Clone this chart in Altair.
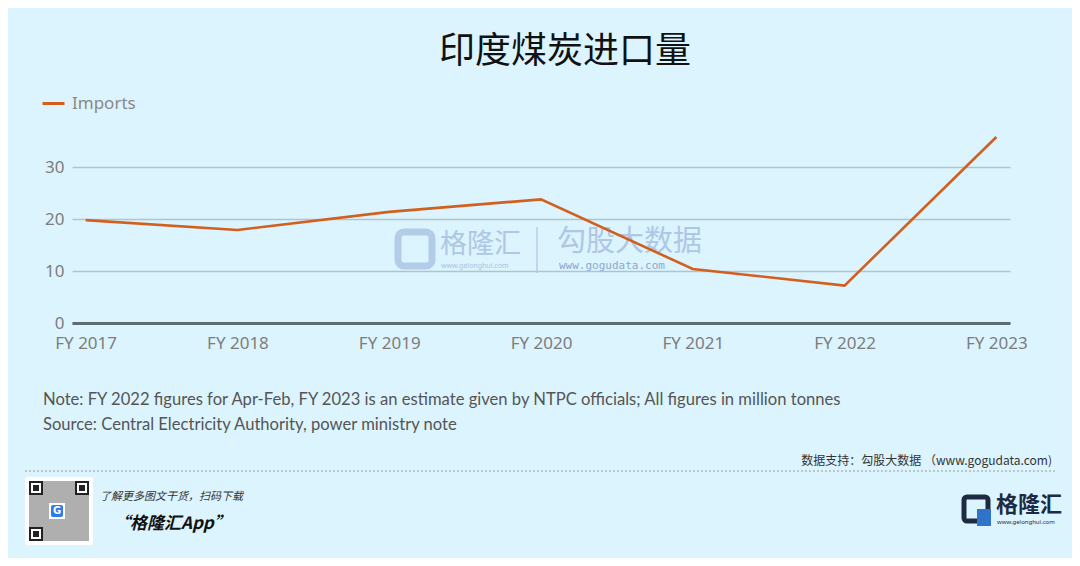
import altair as alt
import pandas as pd

years = ["FY 2017", "FY 2018", "FY 2019", "FY 2020", "FY 2021", "FY 2022", "FY 2023"]
imports = [19.8, 17.9, 21.4, 23.8, 10.4, 7.2, 35.8]
series = ["Imports"] * len(years)
y_ticks = [0, 10, 20, 30]

title_text = "印度煤炭进口量"
note_text = "Note: FY 2022 figures for Apr-Feb, FY 2023 is an estimate given by NTPC officials; All figures in million tonnes"
source_text = "Source: Central Electricity Authority, power ministry note"
support_text = "数据支持：勾股大数据 （www.gogudata.com)"
qr_line1 = "了解更多图文干货，扫码下载"
qr_line2 = "“格隆汇App”"
logo_text = "格隆汇"
logo_url = "www.gelonghui.com"
wm_brand2 = "勾股大数据"
wm_url2 = "www.gogudata.com"

BG = "#dcf4fd"
ORANGE = "#d35f1f"
W, H = 938, 187
OX, OY = 72, 136  # page position of plot origin

df = pd.DataFrame({"year": years, "imports": imports, "series": series})
one = pd.DataFrame({"k": [0]})


def px(v):
    return alt.value(v - OX)


def py(v):
    return alt.value(v - OY)


def text(t, x, y, size, color="#333", align="left", font="Noto Sans CJK SC",
         weight="normal", style="normal", baseline="middle", opacity=1.0):
    return alt.Chart(one).mark_text(
        text=t, align=align, baseline=baseline, fontSize=size, font=font,
        fontWeight=weight, fontStyle=style, color=color, opacity=opacity
    ).encode(x=px(x), y=py(y))


def rect(x1, y1, x2, y2, fill, opacity=1.0, stroke=None, sw=0, radius=0):
    kw = dict(fill=fill, opacity=opacity, cornerRadius=radius)
    if stroke:
        kw.update(stroke=stroke, strokeWidth=sw)
    return alt.Chart(one).mark_rect(**kw).encode(
        x=px(x1), x2=px(x2), y=py(y1), y2=py(y2))


xenc = alt.X("year:N", sort=years, title=None,
             scale=alt.Scale(type="point", padding=0.09),
             axis=alt.Axis(labelAngle=0, labelFontSize=17, labelColor="#7d7d7d",
                           labelFont="Noto Sans", labelPadding=12, ticks=False,
                           domainColor="#5e6b70", domainWidth=3, grid=False))
yenc = alt.Y("imports:Q", title=None,
             scale=alt.Scale(domain=[0, 36], nice=False),
             axis=alt.Axis(values=y_ticks, labelFontSize=17, labelColor="#7d7d7d",
                           labelFont="Noto Sans", labelPadding=8, ticks=False,
                           domain=False, gridColor="#b3c3c9", gridWidth=1.5))

line = alt.Chart(df).mark_line(strokeWidth=2.6).encode(
    x=xenc, y=yenc,
    color=alt.Color("series:N", title=None,
                    scale=alt.Scale(domain=["Imports"], range=[ORANGE]),
                    legend=alt.Legend(orient="none", legendX=-31, legendY=-45,
                                      symbolType="stroke", symbolSize=484,
                                      symbolStrokeWidth=3, labelFontSize=17,
                                      labelColor="#888888", labelFont="Noto Sans",
                                      padding=0, labelOffset=6))
)

WM = "#a8c3e2"
watermark = [
    rect(398, 232, 432, 266, "none", opacity=0.8, stroke=WM, sw=7, radius=6),
    text("格隆汇", 440, 245, 27, color=WM, opacity=0.9),
    text(logo_url, 441, 266, 7, color=WM, font="Noto Sans"),
    alt.Chart(one).mark_rule(color=WM, strokeWidth=1.2).encode(
        x=px(537), y=py(227), y2=py(273)),
    text(wm_brand2, 557, 242, 29, color=WM, opacity=0.9),
    text(wm_url2, 559, 266, 11, color="#8aa9d0", font="DejaVu Sans Mono"),
]

annotations = [
    text(title_text, 565, 52, 36, color="#111111", align="center"),
    text(note_text, 43, 400, 16.6, color="#555555", font="Lato"),
    text(source_text, 43, 425, 16.6, color="#555555", font="Lato"),
    text(support_text, 1052, 461, 12, color="#333333", align="right"),
    alt.Chart(one).mark_rule(color="#9a9a9a", strokeWidth=1.2, strokeDash=[2, 2]).encode(
        x=px(25), x2=px(1055), y=py(471)),
    # QR block
    rect(25, 477, 93, 545, "white", radius=2),
    rect(29, 481, 89, 541, "#6e6e6e", opacity=0.55),
    rect(29, 481, 43, 495, "#222"), rect(31, 483, 41, 493, "white"), rect(33, 485, 39, 491, "#222"),
    rect(75, 481, 89, 495, "#222"), rect(77, 483, 87, 493, "white"), rect(79, 485, 85, 491, "#222"),
    rect(29, 527, 43, 541, "#222"), rect(31, 529, 41, 539, "white"), rect(33, 531, 39, 537, "#222"),
    rect(49, 503, 65, 519, "white"),
    rect(51, 505, 63, 517, "#2b7de9", radius=2),
    text("G", 57, 511, 10, color="white", align="center", font="DejaVu Sans", weight="bold"),
    text(qr_line1, 100, 497, 11, color="#333333", style="italic"),
    text(qr_line2, 113, 524, 17, color="#111111", style="italic", weight="bold"),
    # logo
    rect(964, 497, 988, 521, "none", stroke="#1d2a44", sw=5, radius=3),
    rect(977, 509, 991, 526, "#2f74c9"),
    text(logo_text, 996, 505, 22, color="#1d2a44", weight="bold"),
    text(logo_url, 997, 522, 6, color="#1d2a44", font="Noto Sans"),
]

chart = alt.layer(*watermark, line, *annotations).properties(
    width=W, height=H,
    autosize=alt.AutoSizeParams(type="none"),
    padding={"left": OX - 8, "top": OY - 8, "right": 1064 - (OX - 8) - W,
             "bottom": 550 - (OY - 8) - H},
    background=BG,
).configure_view(stroke=None)

chart.save("out.html", embed_options={"renderer": "svg", "actions": False})
